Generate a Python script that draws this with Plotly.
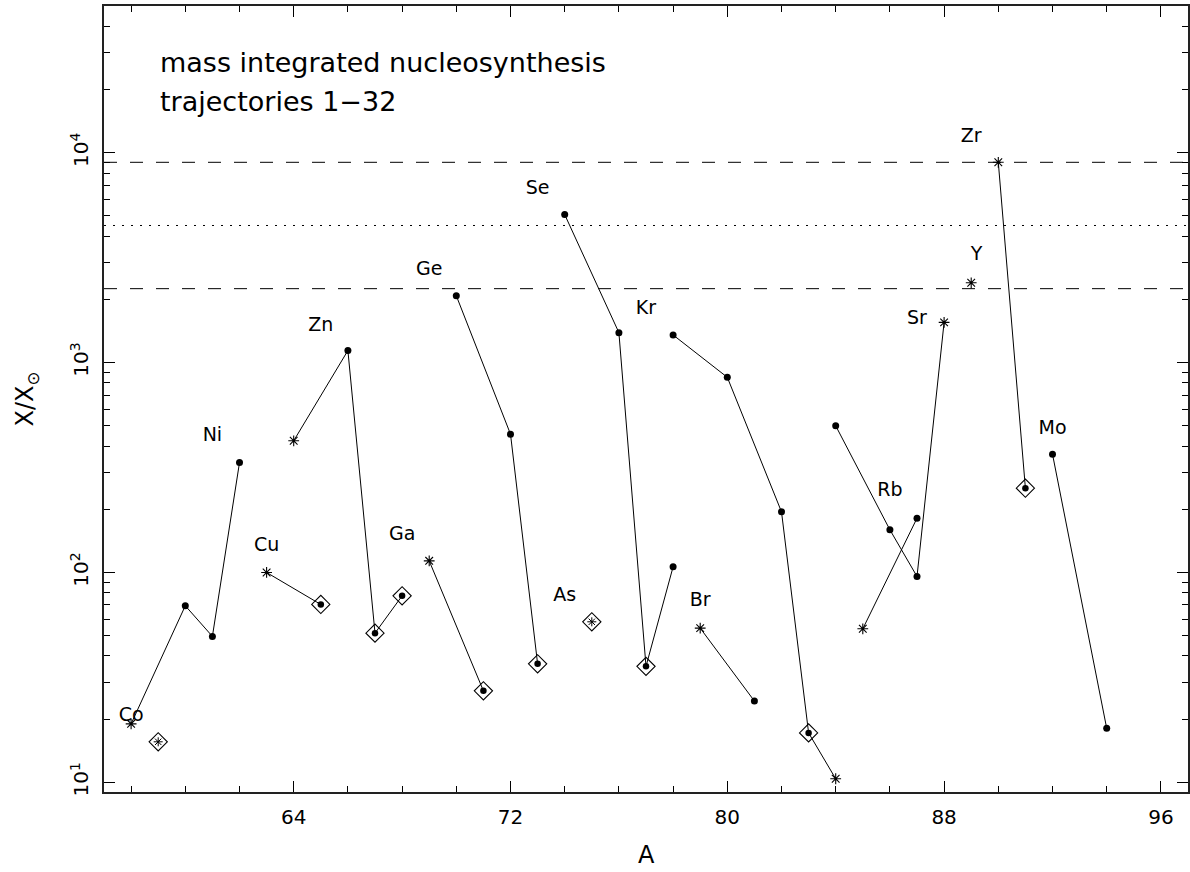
import plotly.graph_objects as go

# ---- data: mass number A and overproduction X/X_sun for each element chain ----
co_A = [59];                 co_X = [15.6];                          co_sym = ["dia_ast"]
ni_A = [58, 60, 61, 62];     ni_X = [19.0, 69.4, 49.6, 334.0];       ni_sym = ["ast", "dot", "dot", "dot"]
cu_A = [63, 65];             cu_X = [100.0, 70.4];                   cu_sym = ["ast", "dia_dot"]
zn_A = [64, 66, 67, 68];     zn_X = [424.0, 1141.0, 51.4, 77.4];     zn_sym = ["ast", "dot", "dia_dot", "dia_dot"]
ga_A = [69, 71];             ga_X = [113.6, 27.3];                   ga_sym = ["ast", "dia_dot"]
ge_A = [70, 72, 73];         ge_X = [2082.0, 456.0, 36.7];           ge_sym = ["dot", "dot", "dia_dot"]
as_A = [75];                 as_X = [58.2];                          as_sym = ["dia_ast"]
se_A = [74, 76, 77, 78];     se_X = [5073.0, 1389.0, 35.7, 106.4];   se_sym = ["dot", "dot", "dia_dot", "dot"]
br_A = [79, 81];             br_X = [54.3, 24.4];                    br_sym = ["ast", "dot"]
kr_A = [78, 80, 82, 83, 84]; kr_X = [1354.0, 851.0, 194.5, 17.2, 10.4]; kr_sym = ["dot", "dot", "dot", "dia_dot", "ast"]
rb_A = [85, 87];             rb_X = [53.9, 181.4];                   rb_sym = ["ast", "dot"]
sr_A = [84, 86, 87, 88];     sr_X = [500.0, 159.7, 95.7, 1555.0];    sr_sym = ["dot", "dot", "dot", "ast"]
y_A = [89];                  y_X = [2400.0];                         y_sym = ["ast"]
zr_A = [90, 91];             zr_X = [9000.0, 252.0];                 zr_sym = ["ast", "dia_dot"]
mo_A = [92, 94];             mo_X = [366.0, 18.1];                   mo_sym = ["dot", "dot"]

label_text = ["Co", "Ni", "Cu", "Zn", "Ga", "Ge", "As", "Se", "Br", "Kr", "Rb", "Sr", "Y", "Zr", "Mo"]
label_A = [58.0, 61.0, 63.0, 65.0, 68.0, 69.0, 74.0, 73.0, 79.0, 77.0, 86.0, 87.0, 89.2, 89.0, 92.0]
label_X = [20.7, 445.0, 134.0, 1494.0, 150.0, 2758.0, 77.4, 6668.0, 72.7, 1799.0, 243.0, 1607.0, 3250.0, 11900.0, 480.0]

ref_levels = [9000.0, 4500.0, 2250.0]
ref_dash = ["13px,13px", "2px,7px", "13px,13px"]

x_major = [64, 72, 80, 88, 96]
y_major = [10, 100, 1000, 10000]
y_major_text = ["10<sup>1</sup>", "10<sup>2</sup>", "10<sup>3</sup>", "10<sup>4</sup>"]

title_lines = ["mass integrated nucleosynthesis", "trajectories 1\u221232"]

chains = [
    (co_A, co_X, co_sym), (ni_A, ni_X, ni_sym), (cu_A, cu_X, cu_sym), (zn_A, zn_X, zn_sym),
    (ga_A, ga_X, ga_sym), (ge_A, ge_X, ge_sym), (as_A, as_X, as_sym), (se_A, se_X, se_sym),
    (br_A, br_X, br_sym), (kr_A, kr_X, kr_sym), (rb_A, rb_X, rb_sym), (sr_A, sr_X, sr_sym),
    (y_A, y_X, y_sym), (zr_A, zr_X, zr_sym), (mo_A, mo_X, mo_sym),
]

fig = go.Figure()
INK = "black"
FONT = "DejaVu Sans"

# connecting lines
for A, X, S in chains:
    if len(A) > 1:
        fig.add_trace(go.Scatter(x=A, y=X, mode="lines", line=dict(color=INK, width=1),
                                 hoverinfo="skip", showlegend=False))

# collect marker groups
groups = {"dia": ([], []), "dot": ([], []), "dot_small": ([], []), "ast": ([], []), "ast_small": ([], [])}
for A, X, S in chains:
    for a, v, s in zip(A, X, S):
        if s == "dot":
            groups["dot"][0].append(a); groups["dot"][1].append(v)
        elif s == "ast":
            groups["ast"][0].append(a); groups["ast"][1].append(v)
        elif s == "dia_dot":
            groups["dia"][0].append(a); groups["dia"][1].append(v)
            groups["dot_small"][0].append(a); groups["dot_small"][1].append(v)
        elif s == "dia_ast":
            groups["dia"][0].append(a); groups["dia"][1].append(v)
            groups["ast_small"][0].append(a); groups["ast_small"][1].append(v)

styles = {
    "dia": dict(symbol="diamond-open", size=14, color=INK, line=dict(color=INK, width=1.1)),
    "dot": dict(symbol="circle", size=7, color=INK, line=dict(width=0)),
    "dot_small": dict(symbol="circle", size=6.5, color=INK, line=dict(width=0)),
    "ast": dict(symbol="asterisk-open", size=9, color=INK, line=dict(color=INK, width=1.1)),
    "ast_small": dict(symbol="asterisk-open", size=7.5, color=INK, line=dict(color=INK, width=1)),
}
for k, (xs, ys) in groups.items():
    fig.add_trace(go.Scatter(x=xs, y=ys, mode="markers", marker=styles[k],
                             hoverinfo="skip", showlegend=False))

# element labels
fig.add_trace(go.Scatter(x=label_A, y=label_X, mode="text", text=label_text,
                         textposition="middle center",
                         textfont=dict(family=FONT, size=19, color=INK),
                         hoverinfo="skip", showlegend=False))

# reference levels
for lev, d in zip(ref_levels, ref_dash):
    fig.add_shape(type="line", xref="paper", x0=0, x1=1, yref="y", y0=lev, y1=lev,
                  line=dict(color=INK, width=1, dash=d), layer="below")

# text annotations
fig.add_annotation(text=title_lines[0], xref="paper", yref="paper", x=0.050, y=0.928,
                   xanchor="left", yanchor="middle", showarrow=False,
                   font=dict(family=FONT, size=27, color=INK))
fig.add_annotation(text=title_lines[1], xref="paper", yref="paper", x=0.050, y=0.879,
                   xanchor="left", yanchor="middle", showarrow=False,
                   font=dict(family=FONT, size=27, color=INK))
fig.add_annotation(text="X/X<sub>\u2299</sub>", xref="paper", yref="paper", x=-0.0715, y=0.50,
                   xanchor="center", yanchor="middle", textangle=-90, showarrow=False,
                   font=dict(family=FONT, size=24, color=INK))
fig.add_annotation(text="A", xref="paper", yref="paper", x=0.5, y=-0.080,
                   xanchor="center", yanchor="middle", showarrow=False,
                   font=dict(family=FONT, size=24, color=INK))

y_minor = [m * 10 ** e for e in range(0, 5) for m in range(2, 10)]
axis_common = dict(showline=True, linecolor="#222", linewidth=1.5, mirror="ticks",
                   ticks="inside", ticklen=11, tickwidth=1, tickcolor=INK,
                   showgrid=False, zeroline=False, automargin=False,
                   tickfont=dict(family=FONT, size=20, color=INK))

fig.update_xaxes(range=[57, 97], tickmode="array", tickvals=x_major,
                 minor=dict(ticks="inside", ticklen=6, tickwidth=1, tickcolor=INK, dtick=2, tick0=0,
                            showgrid=False),
                 ticklabelstandoff=6, **axis_common)
fig.update_yaxes(type="log", range=[0.954, 4.699], tickmode="array", tickvals=y_major,
                 ticktext=y_major_text, tickangle=-90,
                 minor=dict(ticks="inside", ticklen=6, tickwidth=1, tickcolor=INK,
                            tickmode="array", tickvals=y_minor, showgrid=False),
                 ticklabelstandoff=6, **axis_common)

fig.update_layout(width=1190, height=872, margin=dict(l=104, r=2, t=6, b=80),
                  paper_bgcolor="white", plot_bgcolor="white", showlegend=False)

fig.write_html("out.html", config={"displayModeBar": False},
               post_script="document.body.style.margin='0';document.body.style.overflow='hidden';")
